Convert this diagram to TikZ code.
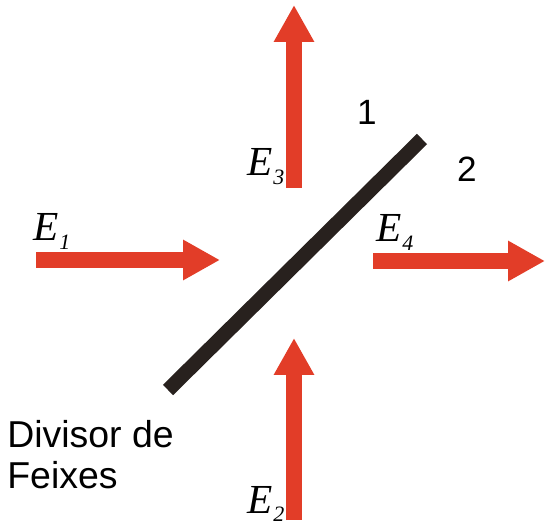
\documentclass[tikz,border=0pt]{standalone}
\usepackage{fontspec}
\setmainfont{Liberation Sans}
\newfontfamily\timesfont{Liberation Serif}
\usepackage{xcolor}
\usepackage{tikz}
\usetikzlibrary{arrows.meta}

\definecolor{beamred}{RGB}{226,61,40}
\definecolor{platedark}{RGB}{40,33,30}
\newcommand{\fieldE}[1]{{\timesfont\fontsize{23.5}{23.5}\selectfont\itshape E\kern0.5pt\raisebox{-0.45ex}{\fontsize{12.5}{12.5}\selectfont #1}}}

\tikzset{
  fieldarrow/.style={beamred, line width=0.32cm, -{Triangle[length=0.74cm,width=0.76cm]}},
  splitter/.style={platedark, line width=0.29cm, line cap=butt},
  sidelbl/.style={font=\fontsize{20}{20}\selectfont, inner sep=0pt, anchor=base},
}

\begin{document}
\begin{tikzpicture}[x=0.02cm, y=-0.02cm]
\useasboundingbox (0,0) rectangle (545,527);
% beam splitter plate
\coordinate (plateA) at (168,390);
\coordinate (plateB) at (422,139);
\draw[splitter] (plateA) -- (plateB);
% input and output beams
\coordinate (e1s) at (36,260);   \coordinate (e1t) at (220,260);
\coordinate (e2s) at (294,520);  \coordinate (e2t) at (294,338);
\coordinate (e3s) at (294,188);  \coordinate (e3t) at (294,5);
\coordinate (e4s) at (373,261);  \coordinate (e4t) at (545,261);
\draw[fieldarrow] (e1s) -- (e1t);
\draw[fieldarrow] (e2s) -- (e2t);
\draw[fieldarrow] (e3s) -- (e3t);
\draw[fieldarrow] (e4s) -- (e4t);
% field labels
\node[anchor=base west, inner sep=0pt] (lE1) at (33,241) {\fieldE{1}};
\node[anchor=base west, inner sep=0pt] (lE2) at (247,513) {\fieldE{2}};
\node[anchor=base west, inner sep=0pt] (lE3) at (247,176) {\fieldE{3}};
\node[anchor=base west, inner sep=0pt] (lE4) at (376,242) {\fieldE{4}};
% sides of the plate
\node[sidelbl] (side1) at (367,125) {1};
\node[sidelbl] (side2) at (467,182) {2};
% caption
\node[anchor=north west, inner sep=0pt, align=left, font=\fontsize{21.3}{23.3}\selectfont] (caption) at (7,420) {Divisor de\\Feixes};
\end{tikzpicture}
\end{document}
